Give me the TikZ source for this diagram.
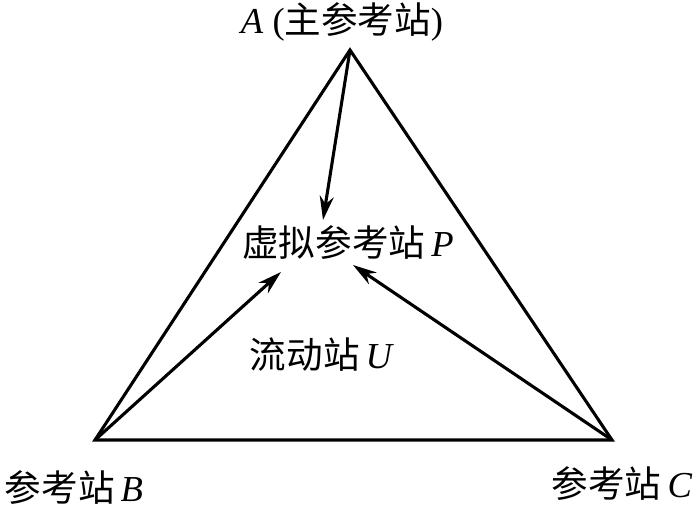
\documentclass[tikz,border=0pt]{standalone}
\usepackage{fontspec}
\setmainfont{Liberation Serif}
\newfontfamily\cjk{Noto Sans CJK SC}
\usetikzlibrary{arrows.meta,positioning,calc}

\begin{document}
\begin{tikzpicture}[
  x=0.025cm, y=-0.025cm,
  >={Stealth[length=17pt,width=10pt]},
  edge/.style={line width=2.2pt},
  lbl/.style={inner sep=0pt,font=\fontsize{26}{29}\selectfont}
]
  \useasboundingbox (0,0) rectangle (700,508);

  % stations
  \coordinate (A) at (350,50);
  \coordinate (B) at (95,440);
  \coordinate (C) at (612,440);
  \draw[edge,line join=miter] (A) -- (B) -- (C) -- cycle;

  \node[lbl] (Alab) at (342,22) {\textit{A} ({\cjk 主参考站})};
  \node[lbl] (Plab) at (348,243) {{\cjk 虚拟参考站}\,\textit{P}};
  \node[lbl] (Ulab) at (322,355) {{\cjk 流动站}\,\textit{U}};
  \node[lbl] (Blab) at (74,488) {{\cjk 参考站}\,\textit{B}};
  \node[lbl] (Clab) at (622,484) {{\cjk 参考站}\,\textit{C}};

  % arrow tips at the virtual station
  \coordinate (PA) at (323,220);
  \coordinate (PB) at (281,272);
  \coordinate (PC) at (353,265);

  \draw[edge,->] (A) -- (PA);
  \draw[edge,->] (B) -- (PB);
  \draw[edge,->] (C) -- (PC);
\end{tikzpicture}
\end{document}
